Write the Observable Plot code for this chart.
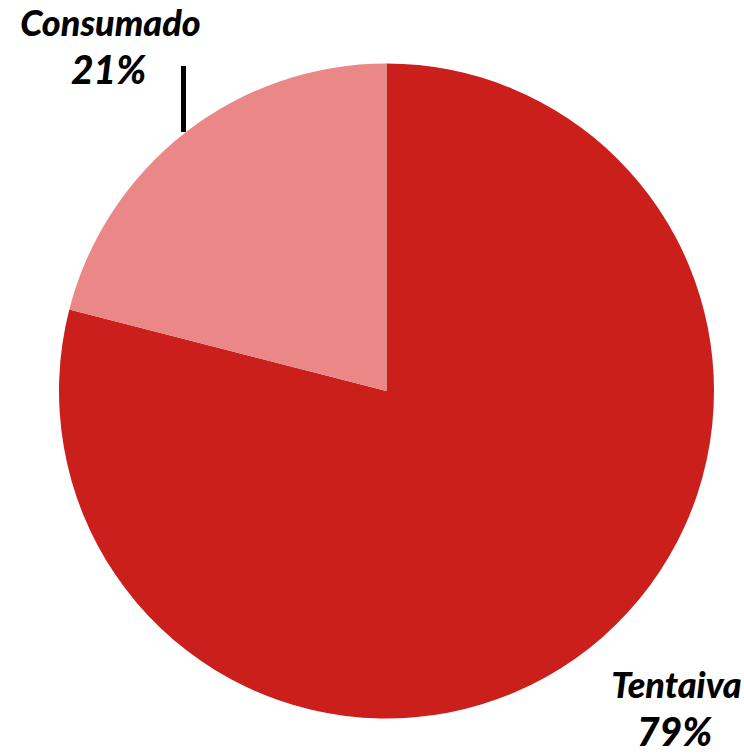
<!DOCTYPE html>
<html><head><meta charset="utf-8">
<script src="https://cdn.jsdelivr.net/npm/d3@7"></script>
<script src="https://cdn.jsdelivr.net/npm/@observablehq/plot@0.6"></script>
<style>html,body{margin:0;padding:0;background:#fff;}</style>
</head><body><div id="chart"></div>
<script>
const categories = ["Tentaiva", "Consumado"];
const values = [79, 21];
const colors = ["#CB1F1C", "#E98886"];
const pctLabels = ["79%", "21%"];

const W = 744, H = 755;
const CX = 386.5, CY = 391, R = 327.5;

// slices: Tentaiva drawn in two pieces (as in reference), starting at 12 o'clock, clockwise
const total = d3.sum(values);
const slices = [];
let a0 = 0;
categories.forEach((c, i) => {
  const a1 = a0 + values[i] / total * 2 * Math.PI;
  const cuts = [a0];
  [Math.PI / 2].forEach(q => { if (q > a0 && q < a1) cuts.push(q); });
  cuts.push(a1);
  for (let k = 0; k < cuts.length - 1; k++) slices.push({cat: c, start: cuts[k], end: cuts[k + 1], color: colors[i]});
  a0 = a1;
});

function pieMark(data) {
  return (index, scales, values, dims, context) => {
    const cx = scales.x(CX), cy = scales.y(CY), r = scales.x(CX + R) - scales.x(CX);
    const arc = d3.arc().innerRadius(0).outerRadius(r);
    const g = d3.create("svg:g").attr("transform", `translate(${cx},${cy})`);
    g.selectAll("path").data(data).join("path")
      .attr("d", d => arc({startAngle: d.start, endAngle: d.end}))
      .attr("fill", d => d.color);
    return g.node();
  };
}

const font = "Lato, 'DejaVu Sans', sans-serif";
const nameLabels = [
  {text: categories[1], x: 110, y: 35},
  {text: categories[0], x: 676, y: 697}
];
const pctLabelPos = [
  {text: pctLabels[1], x: 108, y: 83},
  {text: pctLabels[0], x: 674, y: 745}
];

const chart = Plot.plot({
  width: W, height: H,
  margin: 0,
  x: {domain: [0, W], range: [0, W], axis: null},
  y: {domain: [0, H], range: [0, H], axis: null},
  marks: [
    pieMark(slices),
    Plot.ruleX([183], {y1: 66, y2: 132, stroke: "#000", strokeWidth: 5}),
    Plot.text(nameLabels, {x: "x", y: "y", text: "text", fontFamily: font, fontWeight: 900, fontStyle: "italic",
      fontSize: 36, textAnchor: "middle", lineAnchor: "bottom", fill: "#000"}),
    Plot.text(pctLabelPos, {x: "x", y: "y", text: "text", fontFamily: font, fontWeight: 900, fontStyle: "italic",
      fontSize: 39, textAnchor: "middle", lineAnchor: "bottom", fill: "#000"})
  ]
});
document.getElementById("chart").append(chart);
</script></body></html>
